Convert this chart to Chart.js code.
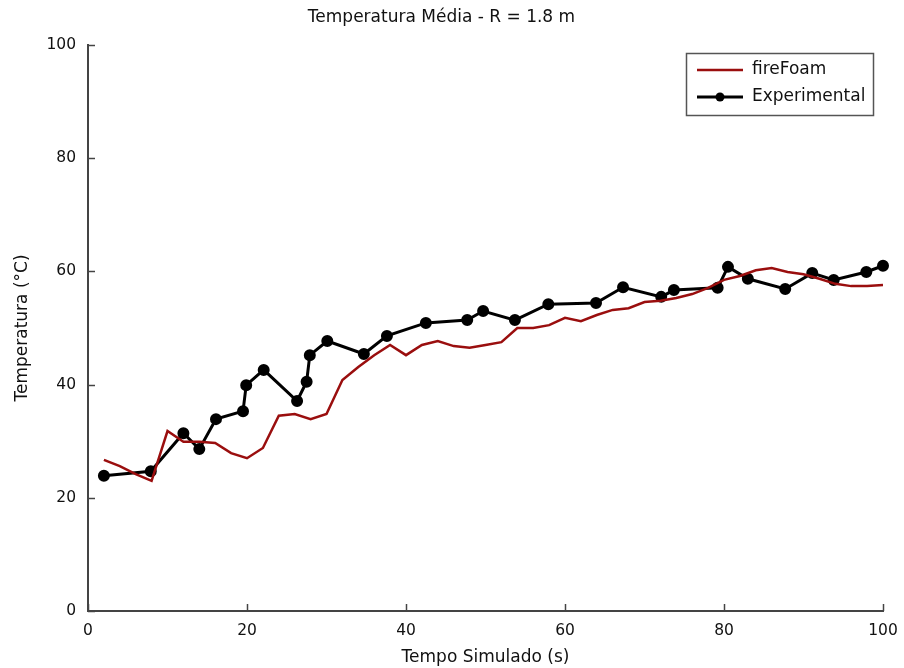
<!DOCTYPE html>
<html>
<head>
<meta charset="utf-8">
<script src="https://cdn.jsdelivr.net/npm/chart.js@4"></script>
<style>
  html, body { margin: 0; padding: 0; background: #fff; }
  #wrap { width: 904px; height: 668px; }
</style>
</head>
<body>
<div id="wrap"><canvas id="myChart" width="904" height="668"></canvas></div>
<script>
// dados
var simTime = [2, 4, 6, 8, 10, 12, 14, 16, 18, 20, 22, 24, 26, 28, 30, 32, 34, 36, 38, 40,
  42, 44, 46, 48, 50, 52, 54, 56, 58, 60, 62, 64, 66, 68, 70, 72, 74, 76, 78, 80,
  82, 84, 86, 88, 90, 92, 94, 96, 98, 100];
var simTemp = [26.7, 25.6, 24.2, 23.0, 31.8, 29.9, 29.9, 29.7, 27.9, 27.0, 28.8, 34.5, 34.8, 33.9, 34.8, 40.8, 43.1, 45.2, 47.0, 45.2,
  47.0, 47.7, 46.8, 46.5, 47.0, 47.5, 50.0, 50.0, 50.5, 51.8, 51.2, 52.3, 53.2, 53.5, 54.6, 54.8, 55.3, 56.0, 57.1, 58.5,
  59.2, 60.2, 60.6, 59.9, 59.5, 58.7, 57.8, 57.4, 57.4, 57.6];

var expTime = [2.0, 7.9, 12.0, 14.0, 16.1, 19.5, 19.9, 22.1, 26.3, 27.5, 27.9, 30.1, 34.7, 37.6, 42.5, 47.7,
  49.7, 53.7, 57.9, 63.9, 67.3, 72.1, 73.7, 79.2, 80.5, 83.0, 87.7, 91.1, 93.8, 97.9, 100];
var expTemp = [23.9, 24.7, 31.4, 28.6, 33.9, 35.3, 39.9, 42.6, 37.1, 40.5, 45.2, 47.7, 45.4, 48.6, 50.9, 51.4,
  53.0, 51.4, 54.2, 54.4, 57.2, 55.5, 56.7, 57.1, 60.8, 58.7, 56.9, 59.7, 58.5, 59.9, 61.0];

var xTicks = [0, 20, 40, 60, 80, 100];
var yTicks = [0, 20, 40, 60, 80, 100];

function toPoints(xs, ys) {
  return xs.map(function (x, i) { return { x: x, y: ys[i] }; });
}

var FONT = "'DejaVu Sans', sans-serif";

// marcas para dentro + legenda dentro do grafico
var axisExtras = {
  id: "axisExtras",
  afterDraw: function (chart) {
    var c = chart.ctx, a = chart.chartArea;
    var xs = chart.scales.x, ys = chart.scales.y;
    c.save();
    c.strokeStyle = "#444";
    c.lineWidth = 1.5;
    xTicks.forEach(function (v) {
      var px = Math.round(xs.getPixelForValue(v)) + 0.5;
      c.beginPath(); c.moveTo(px, a.bottom); c.lineTo(px, a.bottom - 7); c.stroke();
    });
    yTicks.forEach(function (v) {
      var py = Math.round(ys.getPixelForValue(v)) + 0.5;
      c.beginPath(); c.moveTo(a.left, py); c.lineTo(a.left + 7, py); c.stroke();
    });

    // legenda
    var bw = 187, bh = 62;
    var bx = a.right - 10 - bw, by = a.top + 8;
    c.fillStyle = "#fff";
    c.fillRect(bx, by, bw, bh);
    c.strokeStyle = "#555";
    c.lineWidth = 1.5;
    c.strokeRect(bx + 0.5, by + 0.5, bw, bh);
    c.font = "17px " + FONT;
    c.textBaseline = "middle";
    chart.data.datasets.forEach(function (ds, i) {
      var ly = by + 17 + i * 27;
      c.strokeStyle = ds.borderColor;
      c.lineWidth = ds.borderWidth;
      c.beginPath(); c.moveTo(bx + 11, ly); c.lineTo(bx + 57, ly); c.stroke();
      if (ds.pointRadius > 0) {
        c.fillStyle = ds.pointBackgroundColor;
        c.beginPath(); c.arc(bx + 34, ly, ds.pointRadius, 0, Math.PI * 2); c.fill();
      }
      c.fillStyle = "#111";
      c.fillText(ds.label, bx + 66, ly);
    });
    c.restore();
  }
};

var ctx = document.getElementById("myChart").getContext("2d");

var chart = new Chart(ctx, {
  type: "line",
  data: {
    datasets: [
      {
        label: "fireFoam",
        data: toPoints(simTime, simTemp),
        borderColor: "#9a0e0e",
        backgroundColor: "#9a0e0e",
        borderWidth: 2.5,
        pointRadius: 0,
        tension: 0,
        clip: false,
      },
      {
        label: "Experimental",
        data: toPoints(expTime, expTemp),
        borderColor: "#000",
        backgroundColor: "#000",
        pointBackgroundColor: "#000",
        pointBorderColor: "#000",
        borderWidth: 3,
        pointRadius: 4.5,
        tension: 0,
        clip: false,
      },
    ],
  },
  options: {
    responsive: false,
    animation: false,
    layout: { padding: { left: 0, right: 21, top: 0, bottom: 0 } },
    plugins: {
      legend: { display: false },
      tooltip: { enabled: false },
      title: {
        display: true,
        text: "Temperatura Média - R = 1.8 m",
        color: "#111",
        font: { family: FONT, size: 17, weight: "normal" },
        padding: { top: 7, bottom: 17.6 },
      },
    },
    scales: {
      x: {
        type: "linear",
        min: 0,
        max: 100,
        afterBuildTicks: function (s) { s.ticks = xTicks.map(function (v) { return { value: v }; }); },
        afterFit: function (s) { s.height = 57; s.paddingLeft = 0; s.paddingRight = 0; },
        grid: { display: true, drawOnChartArea: false, drawTicks: false },
        border: { display: true, color: "#444", width: 2 },
        ticks: { color: "#111", padding: 11, font: { family: FONT, size: 15.5 }, maxRotation: 0 },
        title: {
          display: true,
          text: "Tempo Simulado (s)",
          color: "#111",
          font: { family: FONT, size: 17 },
          padding: { top: 0, bottom: 0 },
        },
      },
      y: {
        type: "linear",
        min: 0,
        max: 100,
        afterBuildTicks: function (s) { s.ticks = yTicks.map(function (v) { return { value: v }; }); },
        afterFit: function (s) { s.width = 88; },
        grid: { display: true, drawOnChartArea: false, drawTicks: false },
        border: { display: true, color: "#444", width: 2 },
        ticks: { color: "#111", padding: 12, font: { family: FONT, size: 15.5 } },
        title: {
          display: true,
          text: "Temperatura (°C)",
          color: "#111",
          font: { family: FONT, size: 17 },
          padding: { top: 12, bottom: 0 },
        },
      },
    },
  },
  plugins: [axisExtras],
});
</script>
</body>
</html>
